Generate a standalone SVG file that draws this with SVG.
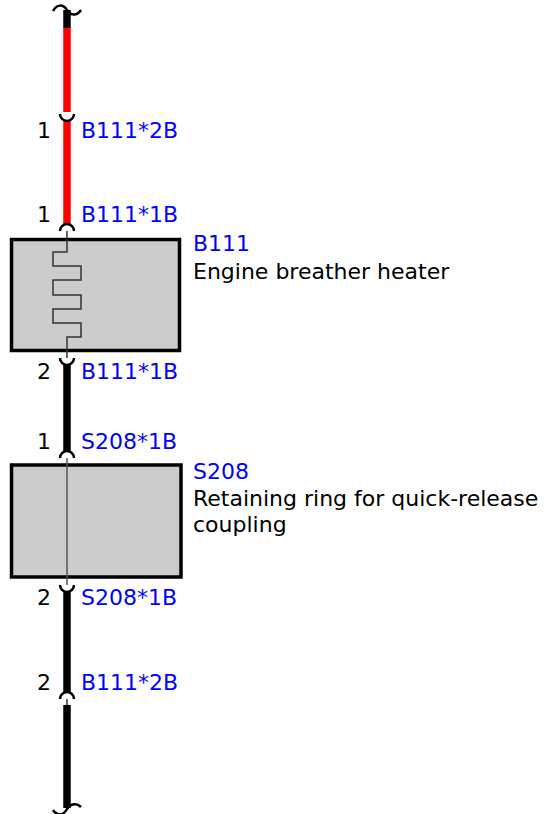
<svg xmlns="http://www.w3.org/2000/svg" width="551" height="814" viewBox="0 0 551 814">
<style>
text{font-family:"DejaVu Sans","Liberation Sans",sans-serif;font-size:22px}
.pin{fill:#000;text-anchor:end}
.ref{fill:#0000ff}
.desc{fill:#000}
.box{fill:#cccccc;stroke:#000;stroke-width:3.5}
.thin{fill:none;stroke:#333;stroke-width:1.5}
.end{fill:none;stroke:#000;stroke-width:2.5}
.wr{stroke:#ff0000;stroke-width:7.5;fill:none}
.wb{stroke:#000;stroke-width:7.5;fill:none}
</style>
<g id="B111">
<rect class="box" x="11.5" y="239.5" width="168" height="111"/>
<path class="thin" d="M67 231 V252 H53 V266 H81 V280 H53 V295 H81 V309 H53 V323 H81 V337 H67 V358"/>
<text class="ref" x="193" y="251">B111</text>
<text class="desc" x="193" y="279">Engine breather heater</text>
</g>
<g id="S208">
<rect class="box" x="11.5" y="465" width="169.5" height="112"/>
<path class="thin" d="M67 458 V585" style="stroke:#555"/>
<text class="ref" x="193" y="479">S208</text>
<text class="desc" x="193" y="506">Retaining ring for quick-release</text>
<text class="desc" x="193" y="532">coupling</text>
</g>
<g id="connectors">
<!-- segment 1 -->
<path class="wb" d="M67 10 V28"/>
<path class="wr" d="M67 28 V112"/>
<path class="end" d="M53 11 C57 4 63 4 67 10 C71 16 77 16 81 10"/>
<!-- segment 2 -->
<path class="wr" d="M67 120 V225"/>
<path class="end" d="M60 114 A7 7 0 0 0 74 114"/>
<path class="end" d="M60 231 A7 7 0 0 1 74 231"/>
<!-- segment 3 -->
<path class="wb" d="M67 364 V452"/>
<path class="end" d="M60 358 A7 7 0 0 0 74 358"/>
<path class="end" d="M60 458 A7 7 0 0 1 74 458"/>
<!-- segment 4 -->
<path class="wb" d="M67 591 V693"/>
<path class="end" d="M60 585 A7 7 0 0 0 74 585"/>
<path class="end" d="M60 699 A7 7 0 0 1 74 699"/>
<path class="thin" d="M67 699 V705"/>
<!-- segment 5 -->
<path class="wb" d="M67 705 V808"/>
<path class="end" d="M53 810 C57 816 63 816 67 809 C71 803 77 803 81 807"/>
</g>
<g id="labels">
<text class="pin" x="51" y="138">1</text>
<text class="ref" x="81" y="138">B111*2B</text>
<text class="pin" x="51" y="222">1</text>
<text class="ref" x="81" y="222">B111*1B</text>
<text class="pin" x="51" y="379">2</text>
<text class="ref" x="81" y="379">B111*1B</text>
<text class="pin" x="51" y="449">1</text>
<text class="ref" x="81" y="449">S208*1B</text>
<text class="pin" x="51" y="605">2</text>
<text class="ref" x="81" y="605">S208*1B</text>
<text class="pin" x="51" y="690">2</text>
<text class="ref" x="81" y="690">B111*2B</text>
</g>
</svg>
